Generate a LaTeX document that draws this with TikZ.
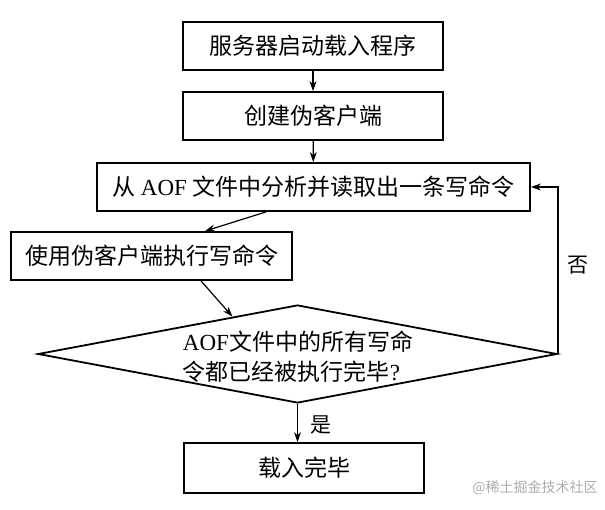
\documentclass[tikz,border=0pt]{standalone}
\usepackage{fontspec}
\setmainfont{Liberation Serif}
\newfontfamily\cjk{Noto Sans CJK SC}
\usetikzlibrary{positioning}
\usetikzlibrary{arrows.meta}
\usetikzlibrary{shapes}
\usetikzlibrary{calc}
\tikzset{
        flownode/.style={align=center, inner sep=0pt, font=\cjk\fontsize{23}{30}\selectfont},
        % Process boxes
        node_box/.style={flownode, rectangle, draw=black, line width=1.8pt, minimum height=48pt},
        % Decision diamond
        node_check/.style={flownode, diamond, draw=black, line width=1.8pt, minimum width=519pt, minimum height=98pt},
        % Yes / no labels
        node_label/.style={inner sep=0pt, font=\cjk\fontsize{21}{24}\selectfont},
        % Watermark
        node_mark/.style={inner sep=0pt, text=gray!65, font=\cjk\fontsize{14}{16}\selectfont}
}

\begin{document}
\begin{tikzpicture}[
            x=1pt, y=-1pt,
            ->, >={Stealth[length=10pt, width=7pt]},
            line width=1.2pt
        ]
            \useasboundingbox (0,0) rectangle (605,510);

            \node[node_box, minimum width=260pt] (load) at (313,46) {服务器启动载入程序};
            \node[node_box, minimum width=260pt] (fake) at (313,116) {创建伪客户端};
            \node[node_box, minimum width=433pt] (read) at (313.5,187) {从 {\rmfamily AOF} 文件中分析并读取出一条写命令};
            \node[node_box, minimum width=281pt] (exec) at (151.5,256) {使用伪客户端执行写命令};
            \node[node_check] (check) at (297.5,354) {};
            \node[flownode, align=left] (checktext) at (298,357) {{\rmfamily AOF}文件中的所有写命\\令都已经被执行完毕{\rmfamily ?}};
            \node[node_box, minimum width=240pt, minimum height=50pt] (done) at (304,468) {载入完毕};

            \draw (load) -- (fake);
            \draw (fake) -- (read);
            \draw ([xshift=-47.5pt]read.south) -- ([xshift=53.5pt]exec.north);
            \draw ([xshift=49.5pt]exec.south) -- ($(check.west)!0.75!(check.north)$);
            \draw (check.south) -- node[node_label, pos=0.55, right=12pt] {是} (check.south |- done.north);
            \draw (check.east) -- node[node_label, pos=0.53, right=9pt] {否} (check.east |- read.east) -- (read.east);

            \node[node_mark] (mark) at (535,488) {@稀土掘金技术社区};
        \end{tikzpicture}
\end{document}
